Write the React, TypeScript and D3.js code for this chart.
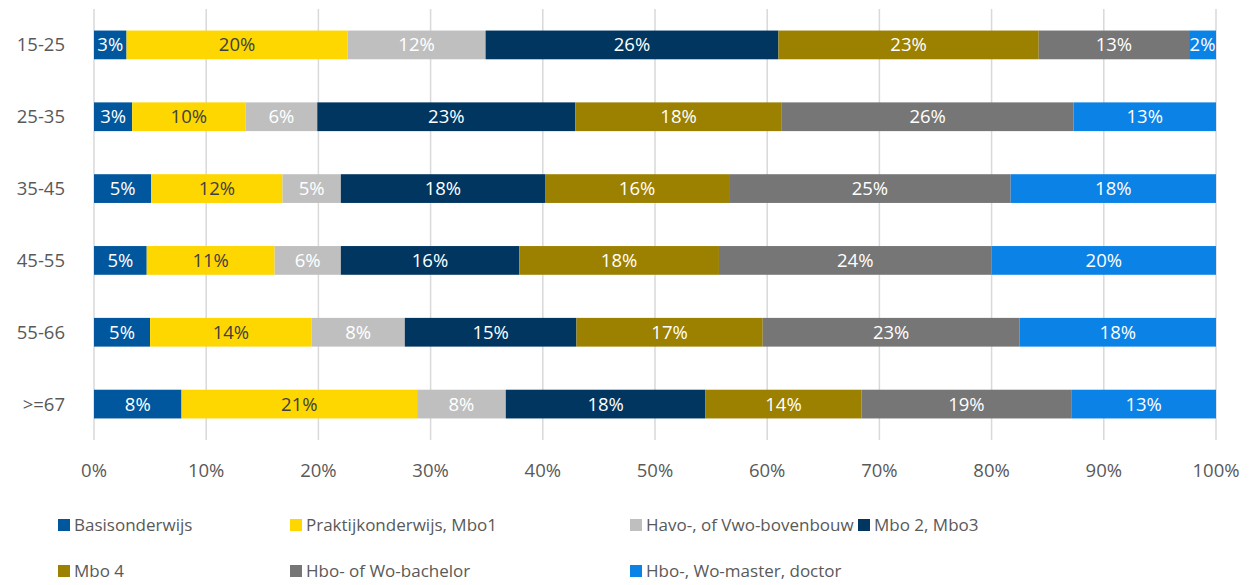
import React, { useEffect, useRef } from 'react';
import * as d3 from 'd3';

const categories = ['15-25', '25-35', '35-45', '45-55', '55-66', '>=67'];
const seriesNames = [
  'Basisonderwijs',
  'Praktijkonderwijs, Mbo1',
  'Havo-, of Vwo-bovenbouw',
  'Mbo 2, Mbo3',
  'Mbo 4',
  'Hbo- of Wo-bachelor',
  'Hbo-, Wo-master, doctor',
];
const seriesColors = ['#00579d', '#ffd700', '#bfbfbf', '#003660', '#9c8000', '#767676', '#0a82e6'];
const labelColors = ['#fff', '#404040', '#fff', '#fff', '#fff', '#fff', '#fff'];

// percent share per category, one array per series
const basis = [2.9, 3.4, 5.1, 4.7, 5.0, 7.8];
const praktijk = [19.7, 10.1, 11.7, 11.4, 14.4, 21.0];
const havo = [12.3, 6.4, 5.2, 5.9, 8.3, 7.9];
const mbo23 = [26.1, 23.0, 18.2, 15.9, 15.3, 17.8];
const mbo4 = [23.2, 18.4, 16.4, 17.8, 16.6, 13.9];
const bachelor = [13.4, 26.0, 25.1, 24.3, 22.9, 18.7];
const master = [2.4, 12.7, 18.3, 20.0, 17.5, 12.9];
const seriesValues = [basis, praktijk, havo, mbo23, mbo4, bachelor, master];

const xTicks = [0, 10, 20, 30, 40, 50, 60, 70, 80, 90, 100];

const FONT = 'Open Sans, sans-serif';

export default function App() {
  const ref = useRef<SVGSVGElement>(null);
  const width = 1252;
  const height = 585;
  const margin = { top: 9, left: 94, right: 36, bottom: 145 };

  useEffect(() => {
    const svg = d3.select(ref.current);
    svg.selectAll('*').remove();

    const x = d3.scaleLinear().domain([0, 100]).range([margin.left, width - margin.right]);
    const y = d3
      .scaleBand()
      .domain(categories)
      .range([margin.top, height - margin.bottom])
      .paddingInner(0.6)
      .paddingOuter(0.3);

    // gridlines
    svg
      .append('g')
      .selectAll('line')
      .data(xTicks)
      .join('line')
      .attr('x1', (d) => x(d))
      .attr('x2', (d) => x(d))
      .attr('y1', margin.top)
      .attr('y2', height - margin.bottom)
      .attr('stroke', '#d9d9d9')
      .attr('stroke-width', 1.5);

    const rows = categories.map((c, i) => {
      let acc = 0;
      return seriesValues.map((vals, s) => {
        const start = acc;
        acc += vals[i];
        return { cat: c, s, start, end: acc, v: vals[i] };
      });
    });
    const segs = rows.flat();

    const bars = svg.append('g');
    bars
      .selectAll('rect')
      .data(segs)
      .join('rect')
      .attr('x', (d) => x(d.start))
      .attr('width', (d) => x(d.end) - x(d.start))
      .attr('y', (d) => y(d.cat)!)
      .attr('height', y.bandwidth())
      .attr('fill', (d) => seriesColors[d.s]);

    const txt = (size: string) => (sel: any) =>
      sel.style('font-family', FONT).style('font-size', size);

    bars
      .selectAll('text')
      .data(segs)
      .join('text')
      .attr('x', (d) => (x(d.start) + x(d.end)) / 2)
      .attr('y', (d) => y(d.cat)! + y.bandwidth() / 2)
      .attr('dy', '0.35em')
      .attr('text-anchor', 'middle')
      .attr('fill', (d) => labelColors[d.s])
      .call(txt('18.5px'))
      .text((d) => `${Math.round(d.v)}%`);

    // category labels
    svg
      .append('g')
      .selectAll('text')
      .data(categories)
      .join('text')
      .attr('x', 65)
      .attr('y', (d) => y(d)! + y.bandwidth() / 2)
      .attr('dy', '0.35em')
      .attr('text-anchor', 'end')
      .attr('fill', '#595959')
      .call(txt('18.5px'))
      .text((d) => d);

    // x tick labels
    svg
      .append('g')
      .selectAll('text')
      .data(xTicks)
      .join('text')
      .attr('x', (d) => x(d))
      .attr('y', 471)
      .attr('dy', '0.35em')
      .attr('text-anchor', 'middle')
      .attr('fill', '#595959')
      .call(txt('18.5px'))
      .text((d) => `${d}%`);

    // legend
    const legendPos = [
      [58, 525], [290, 525], [630, 525], [858, 525],
      [58, 571], [290, 571], [630, 571],
    ];
    const lg = svg
      .append('g')
      .selectAll('g')
      .data(seriesNames)
      .join('g')
      .attr('transform', (d, i) => `translate(${legendPos[i][0]},${legendPos[i][1]})`);
    lg.append('rect')
      .attr('x', 0)
      .attr('y', -6)
      .attr('width', 12)
      .attr('height', 12)
      .attr('fill', (d, i) => seriesColors[i]);
    lg.append('text')
      .attr('x', 16)
      .attr('y', 0)
      .attr('dy', '0.35em')
      .attr('fill', '#595959')
      .call(txt('17px'))
      .text((d) => d);
  }, []);

  return (
    <svg
      ref={ref}
      width={width}
      height={height}
      style={{ position: 'absolute', left: 0, top: 0, background: '#fff' }}
    />
  );
}
